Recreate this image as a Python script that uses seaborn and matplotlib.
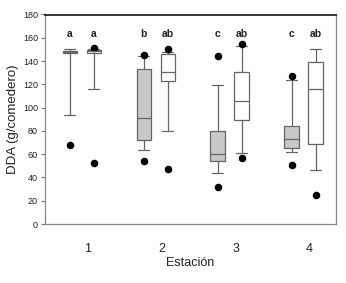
"""
Boxplots of DDA (g/comedero) by Estación, two treatments per station.
"""
import pandas as pd
import seaborn as sns
import matplotlib.pyplot as plt
from matplotlib.transforms import ScaledTranslation

# Data: whisker low, Q1, median, Q3, whisker high
stations = ['1', '2', '3', '4']
treatments = ['gris', 'blanco']
box_gris = [
    [94, 147, 148, 149, 150],
    [64, 72, 91, 133, 144],
    [44, 54, 60, 80, 119],
    [62, 65, 73, 84, 124],
]
box_blanco = [
    [116, 147, 148.5, 149.5, 150],
    [80, 123, 131, 146, 148],
    [61, 89, 105.5, 131, 153],
    [46, 69, 116, 139.5, 150],
]
# 5th / 95th percentile dots
low_gris = [68, 54, 32, 51]
low_blanco = [52, 47, 57, 25]
high_gris = [None, 145, 144, 127]
high_blanco = [151, 150, 155, None]
letters_gris = ['a', 'b', 'c', 'c']
letters_blanco = ['a', 'ab', 'ab', 'ab']


def build_frames():
    rows = []
    for i, st in enumerate(stations):
        for tr, boxes in zip(treatments, [box_gris, box_blanco]):
            for v in boxes[i]:
                rows.append({'Estacion': st, 'Trat': tr, 'DDA': v})
    boxes_df = pd.DataFrame(rows)

    dots = []
    for i, st in enumerate(stations):
        for tr, lows, highs in zip(treatments, [low_gris, low_blanco], [high_gris, high_blanco]):
            dots.append({'Estacion': st, 'Trat': tr, 'DDA': lows[i], 'kind': 'low'})
            dots.append({'Estacion': st, 'Trat': tr, 'DDA': highs[i], 'kind': 'high'})
    dots_df = pd.DataFrame(dots)
    dots_df['DDA'] = dots_df['DDA'].astype(float)
    return boxes_df, dots_df


def main():
    boxes_df, dots_df = build_frames()

    sns.set_style('white')
    plt.rcParams['font.family'] = ['Liberation Sans', 'DejaVu Sans']

    fig, ax = plt.subplots(figsize=(3.46, 2.83), dpi=100)
    fig.subplots_adjust(left=45 / 346, right=336 / 346, top=1 - 14.5 / 283, bottom=1 - 224 / 283)

    sns.boxplot(data=boxes_df, x='Estacion', y='DDA', hue='Trat', order=stations,
                hue_order=treatments, palette=['#c8c8c8', 'white'], whis=(0, 100),
                width=0.65, gap=0.4, linewidth=0.9, linecolor='#666666',
                showfliers=False, legend=False, capwidths=0.15, ax=ax)

    dodge = 0.325
    for kind in ['low', 'high']:
        sub = dots_df[dots_df['kind'] == kind]
        sns.pointplot(data=sub, x='Estacion', y='DDA', hue='Trat', order=stations,
                      hue_order=treatments, palette=['black', 'black'], dodge=dodge,
                      errorbar=None, markers='o', linestyle='none', markersize=3.4,
                      legend=False, ax=ax)

    # significance letters above each box
    for i in range(len(stations)):
        for off, labs in zip([-dodge / 2, dodge / 2], [letters_gris, letters_blanco]):
            ax.text(i + off, 163, labs[i], ha='center', va='center',
                    fontsize=7.5, fontweight='bold', color='#222222')

    ax.set_xlim(-0.5, 3.44)
    ax.set_ylim(0, 180)
    ax.set_yticks(range(0, 181, 20))
    ax.tick_params(axis='y', which='both', left=True, length=3, width=0.8,
                   color='#777777', labelsize=6.5, pad=2, labelcolor='#222222')
    ax.tick_params(axis='x', bottom=False, labelsize=9, pad=10, labelcolor='#222222')
    shift = ScaledTranslation(6 / 100, 0, fig.dpi_scale_trans)
    for lab in ax.get_xticklabels():
        lab.set_transform(lab.get_transform() + shift)

    for side in ['left', 'right', 'bottom']:
        ax.spines[side].set_color('#888888')
        ax.spines[side].set_linewidth(0.9)
    ax.spines['top'].set_color('black')
    ax.spines['top'].set_linewidth(1.1)

    ax.set_xlabel('Estación', fontsize=9, labelpad=1.5, color='#222222')
    ax.set_ylabel('DDA (g/comedero)', fontsize=9.5, labelpad=3, color='#222222')

    plt.savefig('out.png', dpi=100)
    plt.close()


if __name__ == "__main__":
    main()
